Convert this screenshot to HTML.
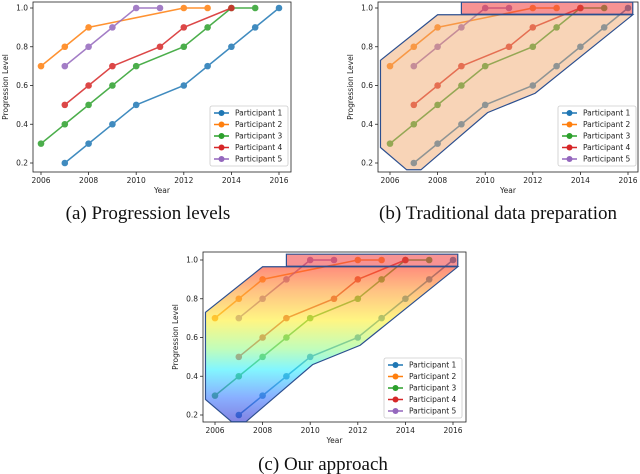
<!DOCTYPE html>
<html><head><meta charset="utf-8">
<style>
html,body{margin:0;padding:0;background:#fff;}
svg{display:block;font-family:"DejaVu Sans","Liberation Sans",sans-serif;}
.cap{font-family:"Liberation Serif",serif;font-size:19px;fill:#111;}
</style></head>
<body>
<svg id="fig" width="640" height="474" viewBox="0 0 640 474" xmlns="http://www.w3.org/2000/svg">
<defs>
<linearGradient id="rainbow" gradientUnits="userSpaceOnUse" x1="0" y1="258" x2="0" y2="422">
<stop offset="0" stop-color="#ff2020"/>
<stop offset="0.2" stop-color="#ff9a30"/>
<stop offset="0.38" stop-color="#ffef30"/>
<stop offset="0.55" stop-color="#9afc8a"/>
<stop offset="0.68" stop-color="#30f0ff"/>
<stop offset="0.85" stop-color="#3a7aff"/>
<stop offset="1" stop-color="#3030d0"/>
</linearGradient>
</defs>
<text class="cap" x="148" y="219" text-anchor="middle">(a) Progression levels</text>
<text class="cap" x="498" y="219" text-anchor="middle">(b) Traditional data preparation</text>
<text class="cap" x="323" y="470" text-anchor="middle">(c) Our approach</text>
</svg>
<script>
const years = [2006,2007,2008,2009,2010,2011,2012,2013,2014,2015,2016];
const xTicks = [2006,2008,2010,2012,2014,2016];
const yTicks = [0.2,0.4,0.6,0.8,1.0];
const seriesNames = ["Participant 1","Participant 2","Participant 3","Participant 4","Participant 5"];
const p1Years = [2007,2008,2009,2010,2012,2013,2014,2015,2016];
const p1Vals  = [0.2,0.3,0.4,0.5,0.6,0.7,0.8,0.9,1.0];
const p2Years = [2006,2007,2008,2012,2013];
const p2Vals  = [0.7,0.8,0.9,1.0,1.0];
const p3Years = [2006,2007,2008,2009,2010,2012,2013,2014,2015];
const p3Vals  = [0.3,0.4,0.5,0.6,0.7,0.8,0.9,1.0,1.0];
const p4Years = [2007,2008,2009,2011,2012,2014];
const p4Vals  = [0.5,0.6,0.7,0.8,0.9,1.0];
const p5Years = [2007,2008,2009,2010,2011];
const p5Vals  = [0.7,0.8,0.9,1.0,1.0];
const hullYears = [2005.6,2008,2016.2,2016.2,2012.1,2010.1,2007.3,2006.7,2005.6];
const hullVals  = [0.73,0.965,0.965,0.965,0.56,0.46,0.165,0.165,0.28];
const topYears = [2009,2016.2,2016.2,2009];
const topVals  = [1.03,1.03,0.968,0.968];

const colors = ["#1f77b4","#ff7f0e","#2ca02c","#d62728","#9467bd"];
const allYears = [p1Years,p2Years,p3Years,p4Years,p5Years];
const allVals = [p1Vals,p2Vals,p3Vals,p4Vals,p5Vals];
const NS = "http://www.w3.org/2000/svg";
const svg = document.getElementById('fig');

function mk(tag, attrs, parent){
  const e = document.createElementNS(NS, tag);
  for (const k in attrs) e.setAttribute(k, attrs[k]);
  (parent||svg).appendChild(e);
  return e;
}

function panel(id, x0, x1, left, right, top, bottom, fillMode, legX, legY){
  const g = mk('g', {});
  
  
  const sx = v => x0 + (v - 2006) * (x1 - x0) / 10;
  const y1 = 8 + (id === 'c' ? 252 : 0), y02 = 163 + (id === 'c' ? 252 : 0);
  const sy = v => y1 + (1.0 - v) * (y02 - y1) / 0.8;
  const fr = mk('rect', {x:left, y:top, width:right-left, height:bottom-top, fill:'#fff', stroke:'#222', 'stroke-width':0.8}, g);
  
  
  for (let s = 0; s < 5; s++){
    const sg = mk('g', {opacity:0.85}, g);
    
    
    const pts = allYears[s].map((yr,i) => sx(yr) + ',' + sy(allVals[s][i])).join(' ');
    const pl = mk('polyline', {points:pts, fill:'none', stroke:colors[s], 'stroke-width':1.5}, sg);
    
    
    allYears[s].forEach((yr,i) => {
      const c = mk('circle', {cx:sx(yr), cy:sy(allVals[s][i]), r:3.3, fill:colors[s]}, sg);
      
      
    });
  }
  if (fillMode){
    const hp = hullYears.map((yr,i) => sx(yr) + ',' + sy(hullVals[i])).join(' ');
    const fillAttr = fillMode === 'orange' ? {fill:'#f0a060', 'fill-opacity':0.45} : {fill:'url(#rainbow)', 'fill-opacity':0.6};
    const h = mk('polygon', Object.assign({points:hp, stroke:'#2c4f8f', 'stroke-width':1.2}, fillAttr), g);
    
    
    const tp = topYears.map((yr,i) => sx(yr) + ',' + sy(topVals[i])).join(' ');
    const t = mk('polygon', {points:tp, fill:'#f03a3a', 'fill-opacity':0.55, stroke:'#2c4f8f', 'stroke-width':1.2}, g);
    
    
  }
  xTicks.forEach(v => {
    mk('line', {x1:sx(v), x2:sx(v), y1:bottom, y2:bottom+3, stroke:'#222', 'stroke-width':0.8}, g);
    const t = mk('text', {x:sx(v), y:bottom+11, 'font-size':7.5, 'text-anchor':'middle', fill:'#222'}, g);
    t.textContent = v;
    
    
  });
  yTicks.forEach(v => {
    mk('line', {x1:left-3, x2:left, y1:sy(v), y2:sy(v), stroke:'#222', 'stroke-width':0.8}, g);
    const t = mk('text', {x:left-5, y:sy(v)+2.7, 'font-size':7.5, 'text-anchor':'end', fill:'#222'}, g);
    t.textContent = v.toFixed(1);
    
    
  });
  const xl = mk('text', {x:(left+right)/2, y:bottom+21, 'font-size':7.5, 'text-anchor':'middle', fill:'#222'}, g);
  xl.textContent = 'Year';
  
  
  const yx = left - 25, yy = (top+bottom)/2;
  const yl = mk('text', {x:yx, y:yy, 'font-size':7.5, 'text-anchor':'middle', fill:'#222', transform:'rotate(-90 '+yx+' '+yy+')'}, g);
  yl.textContent = 'Progression Level';
  
  
  const lg = mk('g', {}, g);
  
  
  mk('rect', {x:legX, y:legY, width:78, height:60, rx:2, fill:'#fff', 'fill-opacity':0.85, stroke:'#ccc', 'stroke-width':0.8}, lg);
  for (let s = 0; s < 5; s++){
    const ey = legY + 7 + s*11.5;
    const eg = mk('g', {}, lg);
    
    
    mk('line', {x1:legX+4, x2:legX+19, y1:ey, y2:ey, stroke:colors[s], 'stroke-width':1.5}, eg);
    mk('circle', {cx:legX+11.5, cy:ey, r:3, fill:colors[s]}, eg);
    const t = mk('text', {x:legX+25, y:ey+2.7, 'font-size':7.5, fill:'#222'}, eg);
    t.textContent = seriesNames[s];
  }
}
panel('a', 41, 279, 33, 291, 2, 172, null, 210, 106);
panel('b', 390, 628, 378, 638, 2, 172, 'orange', 558, 106);
panel('c', 215, 453, 203, 466, 252, 422, 'rainbow', 384, 358);
</script>
</body></html>
